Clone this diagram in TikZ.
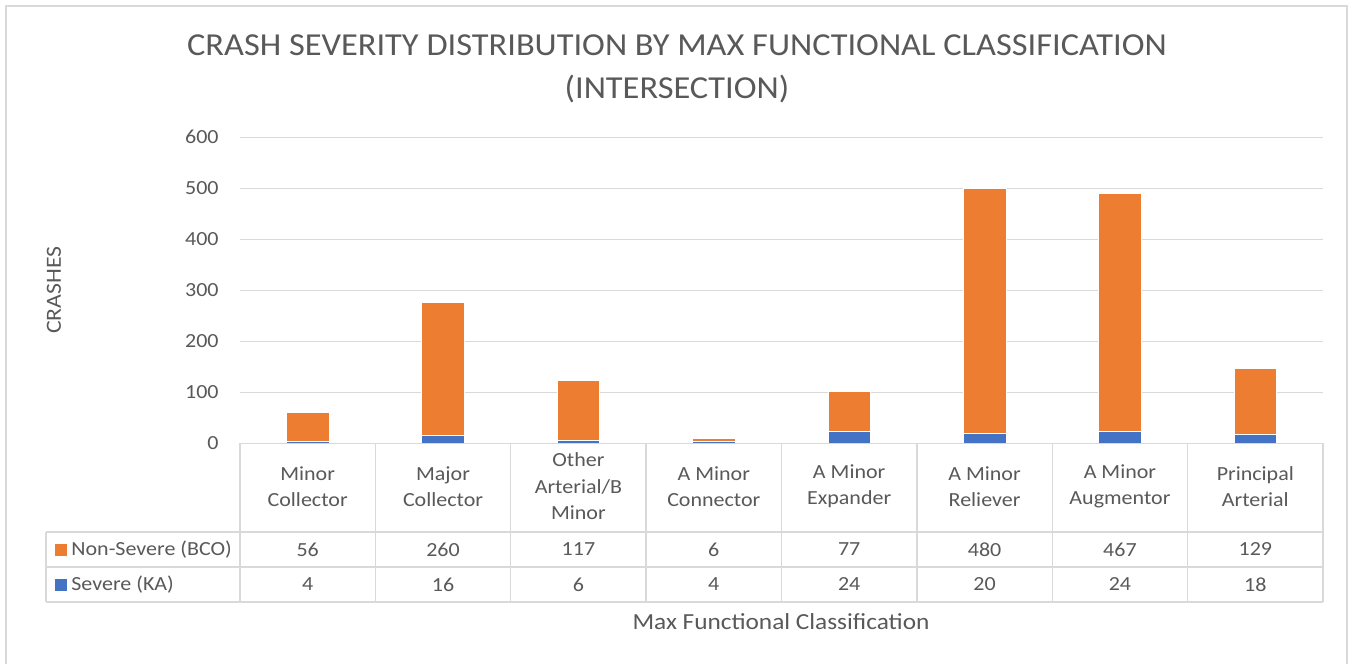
\documentclass[tikz,border=0pt]{standalone}
\usepackage{fontspec}
\setmainfont{Carlito}[FakeStretch=1.1]
\newfontfamily\titlefont{Carlito}[FakeStretch=1.075]
\definecolor{txt}{HTML}{595959}
\definecolor{grid}{HTML}{D9D9D9}
\definecolor{bord}{HTML}{D9D9D9}
\definecolor{orng}{HTML}{ED7D31}
\definecolor{blu}{HTML}{4472C4}
\begin{document}
\begin{tikzpicture}[x={(0.5pt,0)},y={(0,-0.5pt)},
  lbl/.style={text=txt,font=\fontsize{10}{13.2}\selectfont,inner sep=0pt},
  cat/.style={lbl,align=center},
  ttl/.style={text=txt,font=\titlefont\fontsize{16}{21.5}\selectfont,inner sep=0pt,align=center},
  gridline/.style={draw=grid,line width=0.6pt},
  tabline/.style={draw=grid,line width=0.7pt},
  ka/.style={fill=blu,draw=white,line width=0.3pt},
  bco/.style={fill=orng,draw=white,line width=0.3pt}]
\useasboundingbox (0,0) rectangle (1350,664);
\fill[white] (0,0) rectangle (1350,664);
\draw[bord,line width=0.6pt] (6,664) -- (6,6) -- (1347,6) -- (1347,664);
% title
\node[ttl] (title) at (677,69) {CRASH SEVERITY DISTRIBUTION BY MAX FUNCTIONAL CLASSIFICATION\\(INTERSECTION)};
% gridlines and tick labels
\foreach \v in {100,200,300,400,500,600}{
  \draw[gridline] (240,{443.3-0.51*\v}) -- (1323,{443.3-0.51*\v});
}
\foreach \v/\n in {0/t0,100/t1,200/t2,300/t3,400/t4,500/t5,600/t6}{
  \node[lbl,anchor=east] (\n) at (219,{443.3-0.51*\v}) {\v};
}
\node[lbl,font=\fontsize{10.8}{13}\selectfont,rotate=90] (ytitle) at (54,290) {CRASHES};
% bars
\foreach \i/\s/\b in {0/4/56,1/16/260,2/6/117,3/4/6,4/24/77,5/20/480,6/24/467,7/18/129}{
  \pgfmathsetmacro{\cx}{240+135.375*(\i+0.5)}
  \pgfmathsetmacro{\ys}{443.3-0.51*\s}
  \pgfmathsetmacro{\yb}{443.3-0.51*(\s+\b)}
  \fill[ka] ({\cx-21.35},443.3) rectangle ({\cx+21.35},\ys);
  \fill[bco] ({\cx-21.35},\ys) rectangle ({\cx+21.35},\yb);
}
% table lines
\draw[tabline] (240,443.3) -- (1323,443.3);
\draw[tabline] (46,532) -- (1323,532);
\draw[tabline] (46,567) -- (1323,567);
\draw[tabline] (46,602) -- (1323,602);
\draw[tabline] (46,532) -- (46,602);
\foreach \i in {0,...,8}{
  \draw[tabline] ({240+135.375*\i},443.3) -- ({240+135.375*\i},602);
}
% category labels
\foreach \i/\t in {0/{Minor\\Collector},1/{Major\\Collector},2/{Other\\Arterial/B\\Minor},3/{A Minor\\Connector},4/{A Minor\\Expander},5/{A Minor\\Reliever},6/{A Minor\\Augmentor},7/{Principal\\Arterial}}{
  \node[cat] (c\i) at ({240+135.375*(\i+0.5)},486.5) {\t};
}
% values
\foreach \i/\b/\s in {0/56/4,1/260/16,2/117/6,3/6/4,4/77/24,5/480/20,6/467/24,7/129/18}{
  \node[lbl] (nb\i) at ({240+135.375*(\i+0.5)},549.5) {\b};
  \node[lbl] (ns\i) at ({240+135.375*(\i+0.5)},584.5) {\s};
}
% legend
\fill[orng] (55,543.5) rectangle (67,555.5);
\node[lbl,anchor=west] (lgb) at (71,549.5) {Non-Severe (BCO)};
\fill[blu] (55,578.5) rectangle (67,590.5);
\node[lbl,anchor=west] (lgs) at (71,584.5) {Severe (KA)};
% x title
\node[lbl,font=\fontsize{11.5}{14}\selectfont] (xtitle) at (781,622) {Max Functional Classification};
\end{tikzpicture}
\end{document}
